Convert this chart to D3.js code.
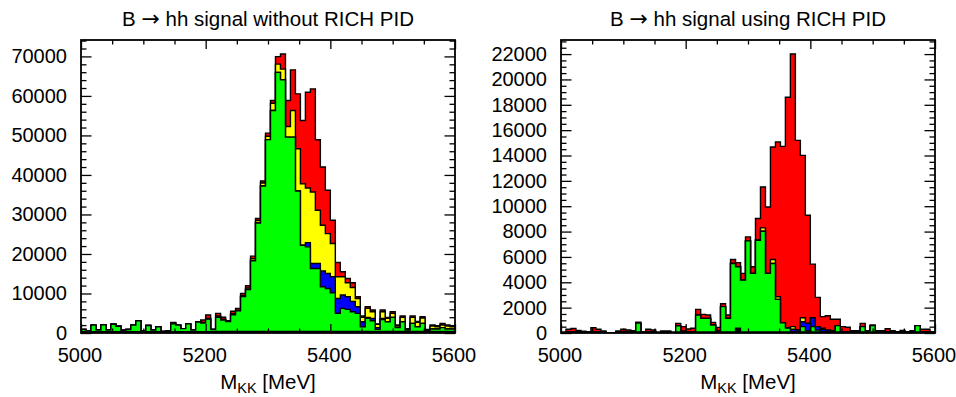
<!DOCTYPE html>
<html>
<head>
<meta charset="utf-8">
<script src="https://cdn.jsdelivr.net/npm/d3@7"></script>
<style>
  body { margin: 0; background: #fff; }
  svg text { font-family: "Liberation Sans", Arial, Helvetica, sans-serif; fill: #000; }
</style>
</head>
<body>
<svg id="chart" width="956" height="397"></svg>
<script>
// 75 bins of 8 MeV between 5000 and 5600
var massLow = 5000, massHigh = 5600, binWidth = 8
var massTicks = [5000, 5200, 5400, 5600]
var massMinor = [5050, 5100, 5150, 5250, 5300, 5350, 5450, 5500, 5550]

var layerColors = ['#000000', '#00ff00', '#0000ff', '#ffff00', '#ff0000']

// without RICH PID
var leftBase = [300,200,300,300,300,300,300,300,300,300,300,300,200,300,300,300,200,200,300,300,
  300,300,300,300,300,300,300,400,400,400,400,400,400,400,400,400,400,400,400,400,
  400,400,400,400,400,400,400,400,400,400,400,400,400,400,400,400,400,400,400,400,
  400,400,400,400,400,400,400,400,400,400,400,400,400,400,400]
var leftGreen = [600,300,1700,450,1800,460,1900,1400,400,600,1700,2800,300,1600,450,1300,200,200,2000,1700,
  800,2000,450,2500,2200,3200,600,3600,2900,2500,4200,5200,8800,10600,17900,27450,36800,48550,55900,65550,
  63650,49170,49170,35540,21820,21400,15930,15930,11300,10880,9780,4600,5830,5580,4990,4570,1200,3300,2710,530,
  2990,2460,3560,950,2460,360,2040,1200,2040,190,610,610,950,610,610]
var leftBlue = [0,0,0,0,0,0,0,0,0,0,0,0,0,0,0,0,0,0,0,0,
  0,0,0,0,0,0,0,0,0,0,0,0,0,0,0,0,0,0,0,0,
  0,0,0,0,0,1080,1260,1260,4000,3780,4040,3750,3370,3190,2610,1680,1260,260,590,420,
  300,0,0,0,0,0,0,0,0,0,0,0,0,0,0]
var leftYellow = [0,0,0,0,0,0,0,0,0,0,0,0,0,0,0,0,0,200,300,0,
  0,0,0,0,200,200,0,300,200,0,300,200,300,400,500,620,770,830,1860,2100,
  2740,2700,6730,10690,15570,13820,18100,13470,11570,10100,8420,5470,4620,3540,3530,2100,1100,2270,1690,850,
  1700,840,1010,420,1100,250,1520,1100,1360,170,760,590,670,760,590]
var leftRed = [0,0,0,0,0,0,0,0,0,0,0,0,0,0,0,0,0,0,100,0,
  0,0,0,0,600,850,0,670,500,200,600,430,520,560,650,500,500,800,670,1900,
  3830,6560,10280,13890,15990,24240,26090,17840,14740,10960,5910,3630,1270,1090,1180,420,330,420,420,70,
  420,260,420,250,330,80,330,250,320,170,250,250,420,250,170]

// using RICH PID
var rightBase = [50,80,80,80,80,80,80,80,80,30,30,80,80,80,80,80,80,80,80,50,
  80,80,50,80,80,80,80,80,80,80,80,80,80,80,80,370,80,80,80,80,
  80,80,80,80,80,80,80,80,80,80,80,80,80,80,80,80,80,80,80,80,
  80,80,80,80,80,80,80,80,80,80,80,80,80,80,80]
var rightGreen = [0,0,0,0,0,0,0,0,0,0,0,0,0,0,0,700,0,0,0,0,
  0,0,0,495,60,0,0,1340,1070,1070,550,60,2000,1070,5400,4850,4090,7190,4620,7240,
  7950,4620,5400,2570,720,320,0,0,420,100,420,150,0,0,0,500,0,0,0,0,
  420,100,500,0,0,0,0,0,0,0,0,500,0,0,0]
var rightBlue = [0,0,0,0,0,0,0,0,0,0,0,0,0,0,0,0,0,0,0,0,
  0,0,0,0,0,0,0,0,0,0,0,0,0,0,0,0,0,0,0,0,
  0,0,0,0,0,0,210,160,390,580,700,270,210,150,100,0,0,0,0,0,
  0,0,0,0,0,0,0,0,0,0,0,0,0,0,0]
var rightYellow = [0,0,0,0,0,0,0,0,0,0,0,0,0,0,0,0,0,0,0,0,
  0,0,0,0,0,0,0,0,0,0,0,0,0,0,0,0,0,0,0,0,
  260,0,320,210,0,0,210,0,310,0,0,0,80,0,0,0,0,0,0,0,
  0,0,0,0,0,0,0,0,0,0,0,0,0,0,0]
var rightRed = [0,220,270,120,70,20,340,210,80,0,0,80,210,160,100,80,0,210,160,0,
  80,80,0,185,360,230,290,440,320,270,210,300,230,270,320,330,530,310,520,1710,
  3230,5240,8870,12200,13920,18200,21510,14950,12810,8530,4230,2310,920,1130,900,500,420,370,100,100,
  260,0,50,100,100,260,100,20,130,20,100,0,210,210,20]

var panels = [
  {title: ['B ', '\u2192', ' hh signal without RICH PID'], left: 81,
   layers: [leftBase, leftGreen, leftBlue, leftYellow, leftRed],
   yMajor: d3.range(0, 70001, 10000), yMinor: d3.range(0, 74001, 2000)},
  {title: ['B ', '\u2192', ' hh signal using RICH PID'], left: 561,
   layers: [rightBase, rightGreen, rightBlue, rightYellow, rightRed],
   yMajor: d3.range(0, 22001, 2000), yMinor: d3.range(0, 23001, 500)}
]

var svg = d3.select('#chart')
var W = 374, H = 293, frameTop = 40

panels.forEach(function(p, pi){
  var g = svg.append('g').attr('transform', 'translate(' + p.left + ',' + frameTop + ')')

  var x = d3.scaleLinear().domain([massLow, massHigh]).range([0, W])

  // cumulative sums, bottom layer first
  var cum = []
  p.layers.forEach(function(layer, k){
    cum.push(layer.map(function(v, i){ return v + (k ? cum[k - 1][i] : 0) }))
  })
  var totals = cum[cum.length - 1]
  var y = d3.scaleLinear().domain([0, 1.05 * d3.max(totals)]).range([H, 0])

  g.append('clipPath').attr('id', 'clip' + pi)
    .append('rect').attr('width', W).attr('height', H)

  var line = d3.line().x(function(d){ return x(d[0]) }).y(function(d){ return y(d[1]) })

  var hist = g.append('g').attr('clip-path', 'url(#clip' + pi + ')')
  for (var k = cum.length - 1; k >= 0; k--){
    var pts = [[massLow, 0]]
    cum[k].forEach(function(v, i){
      var lo = massLow + i * binWidth
      pts.push([lo, v], [lo + binWidth, v])
    })
    pts.push([massHigh, 0])
    hist.append('path')
      .attr('d', line(pts) + 'Z')
      .attr('fill', layerColors[k])
      .attr('stroke', '#000')
      .attr('stroke-width', 1.4)
      .attr('stroke-linejoin', 'miter')
  }

  function clean(sel){
    sel.select('.domain').remove()
    sel.selectAll('.tick line').attr('stroke-width', 1.3)
    sel.attr('font-size', 20).attr('font-family', null)
  }

  // x ticks, bottom with labels and top mirrored
  g.append('g').attr('transform', 'translate(0,' + H + ')')
    .call(d3.axisBottom(x).tickValues(massMinor).tickSize(-4.5).tickFormat('')).call(clean)
  g.append('g').attr('transform', 'translate(0,' + H + ')')
    .call(d3.axisBottom(x).tickValues(massTicks).tickSize(-9).tickPadding(15).tickFormat(d3.format('d'))).call(clean)
    .selectAll('.tick text').attr('dx', -1.5)
  g.append('g')
    .call(d3.axisTop(x).tickValues(massMinor).tickSize(-4.5).tickFormat('')).call(clean)
  g.append('g')
    .call(d3.axisTop(x).tickValues(massTicks).tickSize(-9).tickFormat('')).call(clean)

  // y ticks, left with labels and right mirrored
  var minor = p.yMinor.filter(function(v){ return p.yMajor.indexOf(v) < 0 && y(v) >= 0 })
  g.append('g')
    .call(d3.axisLeft(y).tickValues(minor).tickSize(-5.5).tickFormat('')).call(clean)
  g.append('g')
    .call(d3.axisLeft(y).tickValues(p.yMajor).tickSize(-10.5).tickPadding(14).tickFormat(d3.format('d'))).call(clean)
  g.append('g').attr('transform', 'translate(' + W + ',0)')
    .call(d3.axisRight(y).tickValues(minor).tickSize(-5.5).tickFormat('')).call(clean)
  g.append('g').attr('transform', 'translate(' + W + ',0)')
    .call(d3.axisRight(y).tickValues(p.yMajor).tickSize(-10.5).tickFormat('')).call(clean)

  g.selectAll('.tick text').attr('fill', '#000')

  // frame
  g.append('rect').attr('width', W).attr('height', H)
    .attr('fill', 'none').attr('stroke', '#000').attr('stroke-width', 1.8)

  // title, long arrow as in the original
  var title = g.append('text').attr('x', W / 2).attr('y', 26 - frameTop)
    .attr('text-anchor', 'middle').attr('font-size', 20.5)
  title.append('tspan').text(p.title[0])
  title.append('tspan').attr('font-family', '"DejaVu Sans", sans-serif').attr('font-size', 22).text(p.title[1])
  title.append('tspan').text(p.title[2])

  // axis label M_KK [MeV]
  var lab = g.append('text').attr('x', W / 2).attr('y', 389 - frameTop)
    .attr('text-anchor', 'middle').attr('font-size', 20.5)
  lab.append('tspan').text('M')
  lab.append('tspan').attr('font-size', 14.5).attr('dy', 4).text('KK')
  lab.append('tspan').attr('dy', -4).text(' [MeV]')
})
</script>
</body>
</html>
